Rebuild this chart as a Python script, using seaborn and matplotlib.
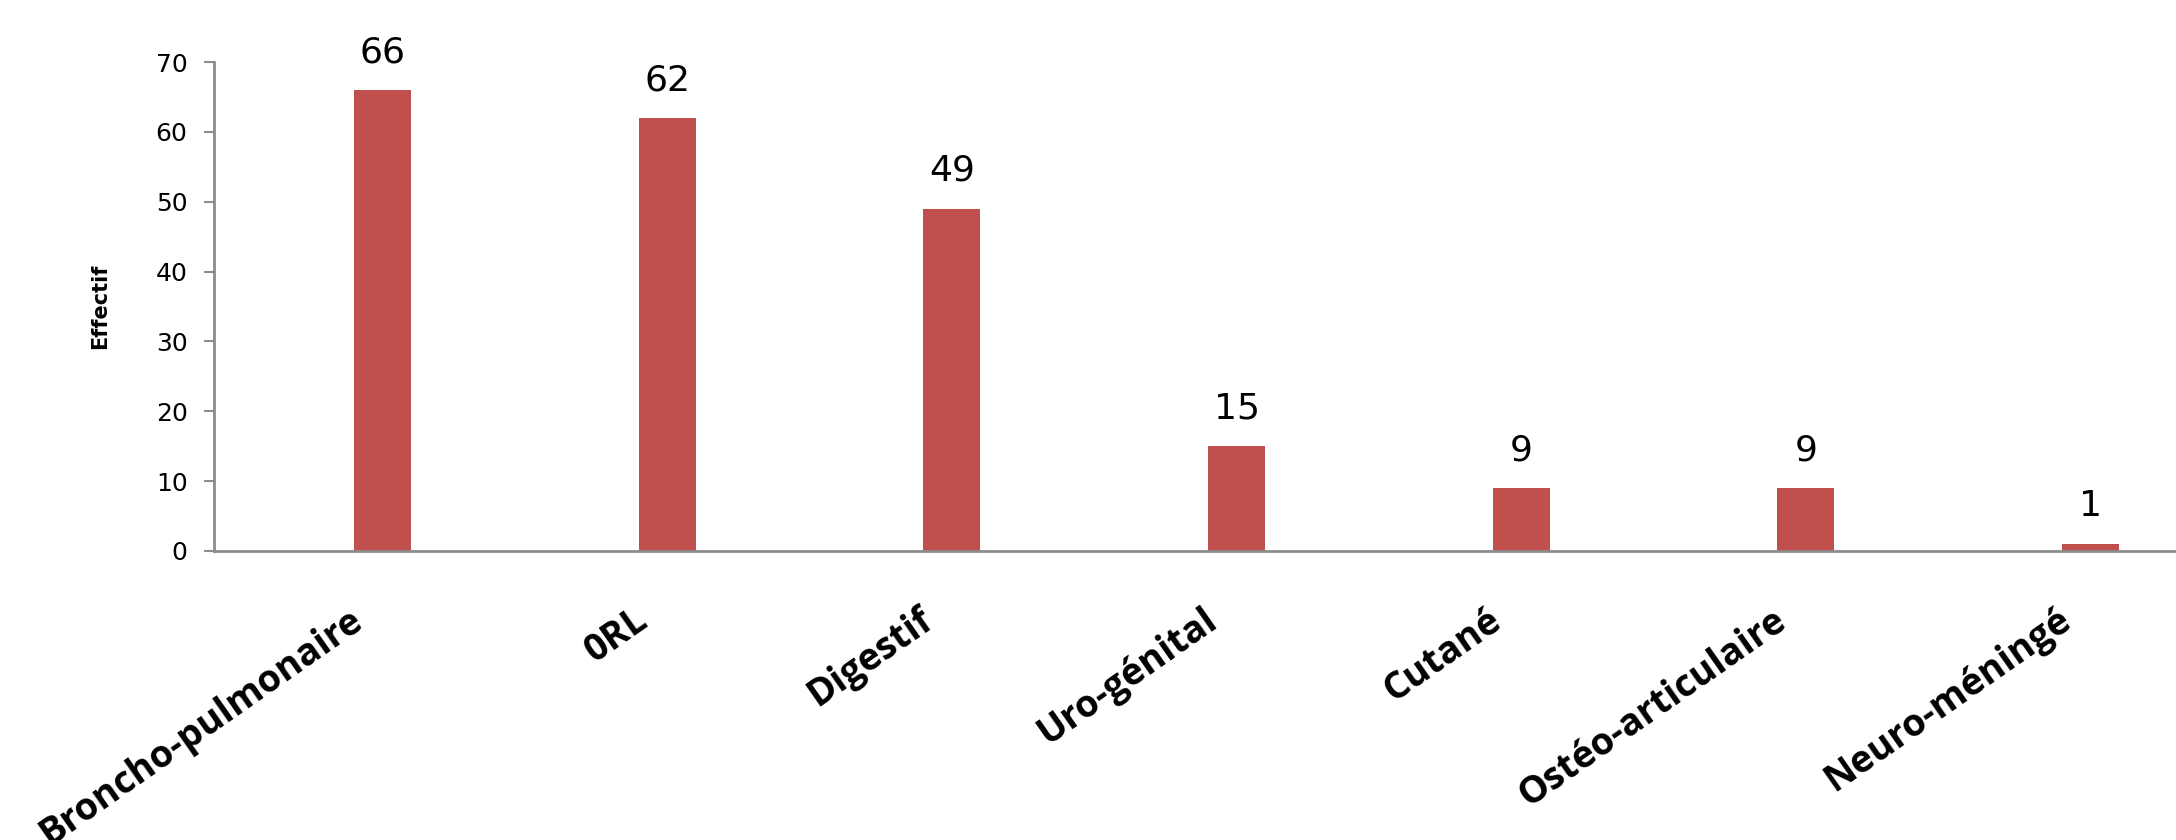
import matplotlib
matplotlib.use("Agg")
import matplotlib.pyplot as plt
import matplotlib.transforms as mtransforms
import seaborn as sns
import pandas as pd

categories = ["Broncho-pulmonaire", "0RL", "Digestif", "Uro-génital", "Cutané",
              "Ostéo-articulaire", "Neuro-méningé"]
values = [66, 62, 49, 15, 9, 9, 1]
y_ticks = [0, 10, 20, 30, 40, 50, 60, 70]
y_label = "Effectif"

sns.set_style("white")
plt.rcParams["font.family"] = ["DejaVu Sans"]
plt.rcParams["text.color"] = "black"
plt.rcParams["axes.labelcolor"] = "black"

df = pd.DataFrame({"cat": categories, "val": values})

fig = plt.figure(figsize=(21.76, 8.4), dpi=100)
ax = fig.add_axes([214 / 2176, 1 - 551 / 840, 1 - 214 / 2176, (551 - 62) / 840])

sns.barplot(data=df, x="cat", y="val", color="#C0504D", saturation=1, width=0.2,
            ax=ax, edgecolor="none")

ax.set_xlim(-0.592, 6.30)
ax.set_ylim(0, 70)
ax.set_yticks(y_ticks)
ax.set_yticklabels([str(t) for t in y_ticks], fontsize=18, color="black")

for i, v in enumerate(values):
    ax.annotate(str(v), xy=(i, v), xytext=(0, 15), textcoords="offset points",
                ha="center", va="bottom", fontsize=26, color="black")

ax.set_xlabel("")
ax.set_ylabel(y_label, fontsize=15, fontweight="bold", color="black",
              family=["Liberation Sans Narrow", "DejaVu Sans"])
ax.yaxis.set_label_coords(-0.053, 0.5)

ax.set_xticks(range(len(categories)))
ax.set_xticklabels(categories, rotation=35, ha="right", va="top",
                   rotation_mode="anchor", fontsize=27, fontweight="bold",
                   color="black", family=["Open Sans", "DejaVu Sans"])
ax.tick_params(axis="x", length=0, pad=36)
offset = mtransforms.ScaledTranslation(-34 / 100, 0, fig.dpi_scale_trans)
for lab in ax.get_xticklabels():
    lab.set_transform(lab.get_transform() + offset)
ax.tick_params(axis="y", length=7, width=1.5, color="#8c8c8c", direction="out",
               pad=12, left=True, labelcolor="black")

for s in ["top", "right"]:
    ax.spines[s].set_visible(False)
for s in ["left", "bottom"]:
    ax.spines[s].set_color("#8c8c8c")
    ax.spines[s].set_linewidth(2)

fig.savefig("out.png", dpi=100, facecolor="white")
